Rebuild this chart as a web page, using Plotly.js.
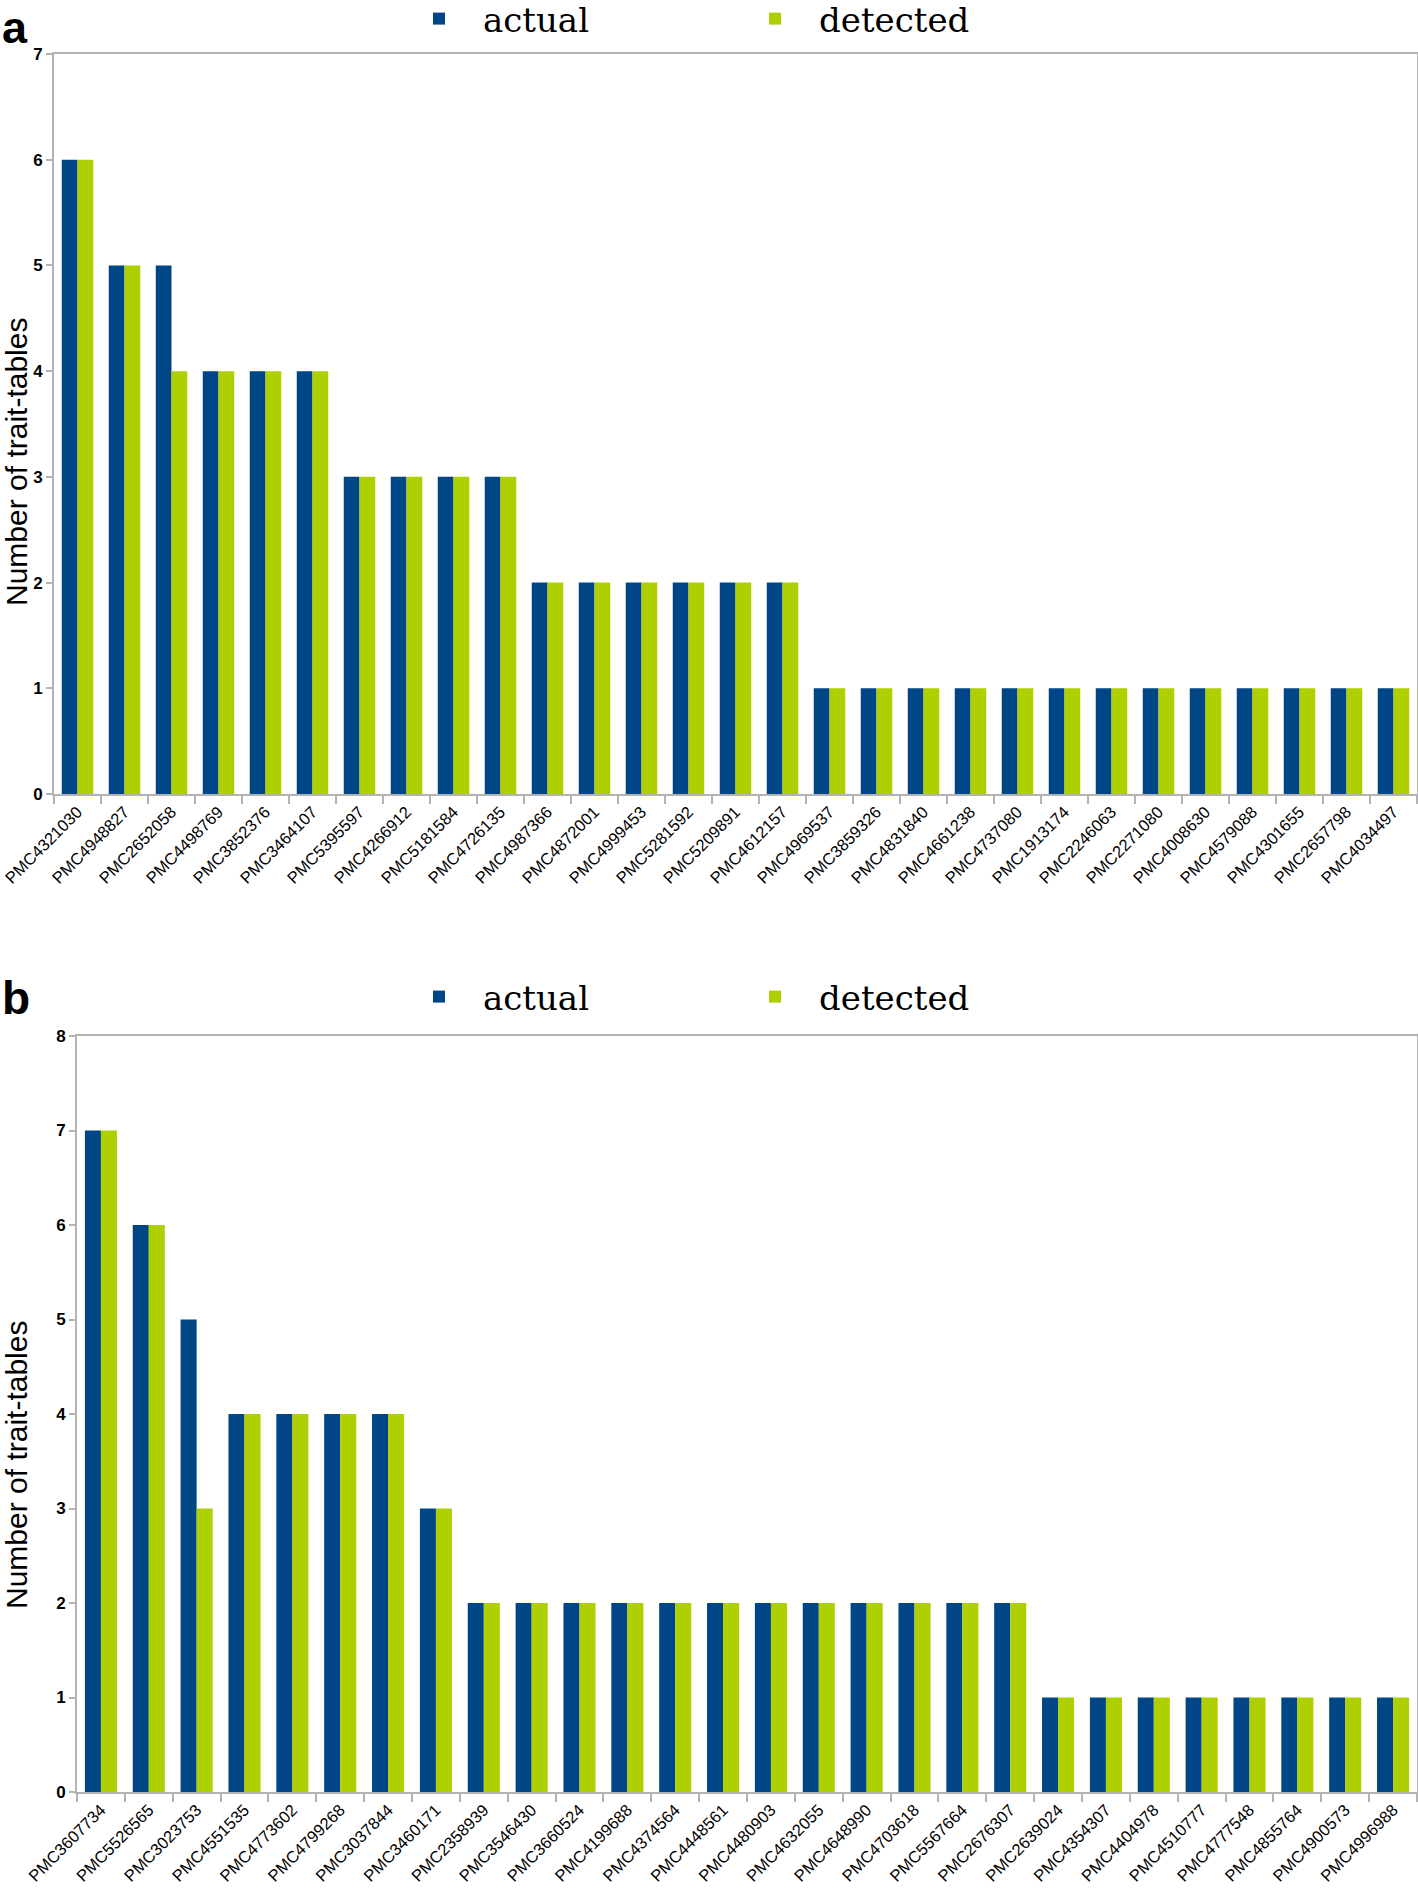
<!DOCTYPE html>
<html>
<head>
<meta charset="utf-8">
<script src="https://cdn.plot.ly/plotly-3.0.1.min.js"></script>
<style>
  html, body { margin: 0; padding: 0; background: #ffffff; }
  #chart { width: 1418px; height: 1895px; }
</style>
</head>
<body>
<div id="chart"></div>
<script>
// ---- Panel a data ----
const categoriesA = ["PMC4321030","PMC4948827","PMC2652058","PMC4498769","PMC3852376","PMC3464107","PMC5395597","PMC4266912","PMC5181584","PMC4726135","PMC4987366","PMC4872001","PMC4999453","PMC5281592","PMC5209891","PMC4612157","PMC4969537","PMC3859326","PMC4831840","PMC4661238","PMC4737080","PMC1913174","PMC2246063","PMC2271080","PMC4008630","PMC4579088","PMC4301655","PMC2657798","PMC4034497"];
const actualA   = [6,5,5,4,4,4,3,3,3,3,2,2,2,2,2,2,1,1,1,1,1,1,1,1,1,1,1,1,1];
const detectedA = [6,5,4,4,4,4,3,3,3,3,2,2,2,2,2,2,1,1,1,1,1,1,1,1,1,1,1,1,1];

// ---- Panel b data ----
const categoriesB = ["PMC3607734","PMC5526565","PMC3023753","PMC4551535","PMC4773602","PMC4799268","PMC3037844","PMC3460171","PMC2358939","PMC3546430","PMC3660524","PMC4199688","PMC4374564","PMC4448561","PMC4480903","PMC4632055","PMC4648990","PMC4703618","PMC5567664","PMC2676307","PMC2639024","PMC4354307","PMC4404978","PMC4510777","PMC4777548","PMC4855764","PMC4900573","PMC4996988"];
const actualB   = [7,6,5,4,4,4,4,3,2,2,2,2,2,2,2,2,2,2,2,2,1,1,1,1,1,1,1,1];
const detectedB = [7,6,3,4,4,4,4,3,2,2,2,2,2,2,2,2,2,2,2,2,1,1,1,1,1,1,1,1];

const seriesNames = ["actual", "detected"];
const colors = ["#004586", "#aecf00"];
const yTitle = "Number of trait-tables";

const W = 1418, H = 1895;
const px = v => v / W;
const py = v => 1 - v / H;

const traces = [
  {type: "bar", name: seriesNames[0], x: categoriesA, y: actualA, xaxis: "x", yaxis: "y", marker: {color: colors[0]}, legend: "legend"},
  {type: "bar", name: seriesNames[1], x: categoriesA, y: detectedA, xaxis: "x", yaxis: "y", marker: {color: colors[1]}, legend: "legend"},
  {type: "bar", name: seriesNames[0], x: categoriesB, y: actualB, xaxis: "x2", yaxis: "y2", marker: {color: colors[0]}, legend: "legend2"},
  {type: "bar", name: seriesNames[1], x: categoriesB, y: detectedB, xaxis: "x2", yaxis: "y2", marker: {color: colors[1]}, legend: "legend2"}
];

const frameColor = "#b3b3b3";
const xCommon = {
  type: "category",
  showline: true, mirror: true, linecolor: frameColor, linewidth: 2,
  ticks: "outside", tickson: "boundaries", ticklen: 8, tickcolor: frameColor, tickwidth: 2,
  tickangle: -45,
  tickfont: {family: "Liberation Sans, Arial, sans-serif", size: 16.5, color: "#000000"},
  showgrid: false, zeroline: false, automargin: false, fixedrange: true
};
const yCommon = {
  showline: true, mirror: true, linecolor: frameColor, linewidth: 2,
  ticks: "outside", ticklen: 6, tickcolor: frameColor, tickwidth: 2,
  dtick: 1,
  tickfont: {family: "Liberation Sans, Arial, sans-serif", size: 17, color: "#000000", weight: "bold"},
  showgrid: false, zeroline: false, automargin: false, fixedrange: true
};

const legendCommon = {
  orientation: "h",
  bgcolor: "rgba(0,0,0,0)",
  borderwidth: 0,
  font: {family: "DejaVu Serif, serif", size: 34, color: "#000000"},
  itemwidth: 78,
  entrywidth: 243,
  entrywidthmode: "pixels",
  xanchor: "left",
  yanchor: "middle",
  traceorder: "normal"
};

const layout = {
  width: W, height: H,
  margin: {l: 0, r: 0, t: 0, b: 0, pad: 0, autoexpand: false},
  paper_bgcolor: "#ffffff",
  plot_bgcolor: "#ffffff",
  barmode: "group",
  bargap: 0.33,
  bargroupgap: 0,
  showlegend: true,
  xaxis: Object.assign({}, xCommon, {domain: [px(54), px(1417)], anchor: "y"}),
  yaxis: Object.assign({}, yCommon, {domain: [py(794), py(54)], range: [0, 7], anchor: "x"}),
  xaxis2: Object.assign({}, xCommon, {domain: [px(77), px(1417)], anchor: "y2"}),
  yaxis2: Object.assign({}, yCommon, {domain: [py(1792), py(1036)], range: [0, 8], anchor: "x2"}),
  legend: Object.assign({}, legendCommon, {x: px(395), y: py(19)}),
  legend2: Object.assign({}, legendCommon, {x: px(395), y: py(997)}),
  annotations: [
    {text: "a", xref: "paper", yref: "paper", x: 0, y: py(0), xanchor: "left", yanchor: "top", showarrow: false,
     font: {family: "Liberation Sans, Arial, sans-serif", size: 45, color: "#000000", weight: "bold"}},
    {text: "b", xref: "paper", yref: "paper", x: 0, y: py(970), xanchor: "left", yanchor: "top", showarrow: false,
     font: {family: "Liberation Sans, Arial, sans-serif", size: 46, color: "#000000", weight: "bold"}},
    {text: yTitle, xref: "paper", yref: "paper", x: px(16), y: py(462), xanchor: "center", yanchor: "middle",
     textangle: -90, showarrow: false, font: {family: "Liberation Sans, Arial, sans-serif", size: 30, color: "#000000"}},
    {text: yTitle, xref: "paper", yref: "paper", x: px(16), y: py(1465), xanchor: "center", yanchor: "middle",
     textangle: -90, showarrow: false, font: {family: "Liberation Sans, Arial, sans-serif", size: 30, color: "#000000"}}
  ]
};

Plotly.newPlot("chart", traces, layout, {staticPlot: true, displayModeBar: false});
</script>
</body>
</html>
